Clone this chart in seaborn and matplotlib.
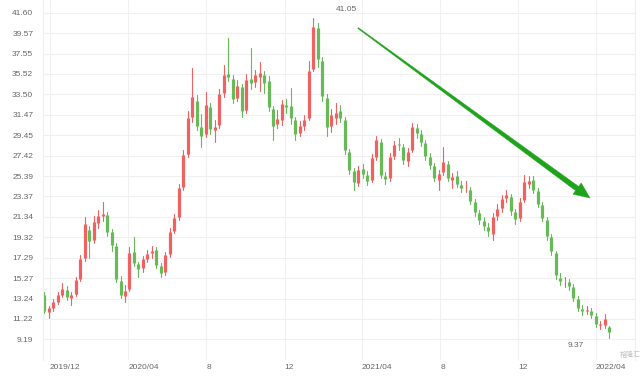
import numpy as np
import pandas as pd
import seaborn as sns
import matplotlib.pyplot as plt
from matplotlib.patches import Polygon

# weekly candles, first one in the week of 2019-11-22
first_week = "2019-11-22"
opens = [13.6, 11.9, 12.3, 12.9, 13.6, 14.1, 13.3, 13.7, 15.2, 17.3,
         20.0, 19.0, 20.7, 21.4, 21.5, 19.8, 18.5, 15.0, 13.5, 14.2,
         17.9, 16.7, 16.3, 17.2, 17.8, 18.1, 16.5, 15.9, 17.7, 19.9,
         21.3, 24.3, 27.6, 31.3, 32.8, 30.3, 29.6, 32.2, 30.0, 30.5,
         33.6, 35.5, 35.0, 33.1, 34.2, 31.9, 35.0, 34.7, 35.2, 35.4,
         34.8, 32.0, 30.6, 31.0, 32.4, 32.3, 31.0, 29.7, 30.4, 31.2,
         36.0, 40.1, 36.8, 33.1, 30.4, 31.2, 31.8, 31.0, 27.8, 25.9,
         24.7, 26.1, 25.5, 25.0, 27.3, 28.8, 25.4, 25.2, 27.4, 28.6,
         28.3, 26.9, 28.0, 30.2, 29.6, 28.7, 27.3, 26.4, 25.0, 25.8,
         26.6, 25.0, 25.4, 24.5, 24.3, 24.0, 22.8, 21.7, 20.9, 20.3,
         19.6, 21.4, 22.2, 23.2, 23.3, 21.8, 21.2, 23.0, 24.6, 25.0,
         23.9, 22.5, 21.0, 19.3, 17.8, 15.3, 14.9, 14.9, 14.4, 13.2,
         12.2, 12.0, 12.0, 11.5, 10.6, 10.6, 10.4]
closes = [12.0, 12.3, 12.9, 13.6, 14.2, 13.4, 13.6, 15.1, 17.2, 20.6,
          18.9, 20.8, 21.4, 21.6, 19.8, 18.6, 15.2, 13.6, 14.0, 17.8,
          16.8, 16.2, 17.2, 17.7, 18.0, 16.6, 15.8, 17.6, 19.8, 21.2,
          24.2, 27.5, 31.2, 33.2, 30.4, 29.4, 32.4, 30.1, 30.3, 33.5,
          35.4, 35.2, 33.0, 34.3, 31.8, 34.9, 34.6, 35.4, 35.6, 34.6,
          32.2, 30.4, 31.1, 32.5, 32.2, 31.2, 29.6, 30.4, 31.0, 35.8,
          40.2, 37.0, 33.3, 30.3, 31.4, 31.6, 31.2, 28.0, 26.0, 24.8,
          26.0, 25.6, 24.9, 27.2, 29.0, 25.5, 25.1, 27.3, 28.5, 28.5,
          27.0, 27.8, 30.3, 29.7, 28.8, 27.4, 26.5, 25.2, 25.6, 26.8,
          25.2, 25.3, 24.6, 24.2, 24.3, 22.9, 21.8, 21.0, 20.4, 19.9,
          21.3, 22.1, 23.1, 23.5, 21.9, 21.1, 22.8, 24.8, 24.9, 24.0,
          22.6, 21.2, 19.4, 18.0, 15.6, 15.0, 14.9, 14.5, 13.3, 12.3,
          12.0, 12.1, 11.6, 10.7, 10.7, 11.2, 9.9]
highs = [13.9, 12.5, 13.2, 13.9, 14.8, 14.5, 13.9, 15.4, 17.6, 21.3,
         20.4, 21.4, 22.0, 22.8, 21.8, 20.1, 18.7, 15.5, 14.6, 18.4,
         19.3, 16.9, 17.5, 18.1, 18.5, 18.4, 16.8, 17.9, 20.2, 21.6,
         24.6, 28.0, 31.8, 36.1, 33.4, 31.5, 33.7, 32.6, 31.0, 34.0,
         36.4, 39.1, 35.4, 34.9, 34.5, 35.5, 38.1, 35.9, 36.7, 35.8,
         35.3, 32.3, 31.9, 32.9, 33.0, 34.1, 31.3, 30.9, 31.4, 36.8,
         41.05, 40.6, 37.2, 33.5, 32.0, 32.6, 32.4, 31.3, 28.1, 26.2,
         26.4, 26.6, 25.9, 27.6, 29.4, 29.1, 25.8, 27.7, 28.9, 29.2,
         28.6, 28.2, 30.7, 30.6, 30.0, 29.0, 27.7, 26.7, 26.0, 28.3,
         26.9, 25.7, 25.9, 24.9, 24.9, 24.3, 23.1, 22.0, 21.3, 20.7,
         21.7, 22.6, 23.5, 24.0, 23.6, 22.1, 23.2, 25.5, 25.4, 25.4,
         24.2, 22.8, 21.3, 19.6, 18.0, 15.8, 15.4, 15.2, 14.7, 13.5,
         12.6, 12.5, 12.3, 11.8, 11.0, 11.7, 10.5]
lows = [11.8, 11.3, 12.0, 12.7, 13.4, 13.1, 12.6, 13.5, 15.0, 17.0,
        17.3, 18.7, 20.2, 20.9, 19.4, 18.0, 14.9, 13.3, 12.9, 14.0,
        16.5, 15.4, 15.9, 16.9, 17.3, 16.3, 15.4, 15.6, 17.4, 19.7,
        21.0, 24.0, 27.3, 30.8, 30.0, 28.3, 29.3, 29.6, 28.8, 30.2,
        33.2, 34.8, 32.6, 32.8, 31.3, 31.6, 34.0, 34.2, 33.8, 33.6,
        31.8, 29.0, 30.2, 30.5, 31.6, 30.6, 29.0, 29.4, 30.0, 31.0,
        35.8, 36.2, 32.8, 29.4, 29.8, 30.6, 30.8, 27.6, 25.6, 24.0,
        24.4, 25.2, 24.5, 24.8, 27.0, 25.2, 24.6, 24.9, 27.1, 28.0,
        26.6, 26.4, 27.8, 29.2, 28.4, 27.0, 26.1, 24.9, 24.0, 25.5,
        24.9, 24.2, 24.3, 23.8, 23.8, 22.6, 21.4, 20.6, 20.0, 19.4,
        19.0, 21.0, 21.8, 22.8, 21.5, 20.6, 20.9, 22.8, 24.2, 23.7,
        22.3, 20.9, 19.0, 17.6, 15.2, 14.6, 14.4, 14.1, 13.0, 12.0,
        11.6, 11.7, 11.3, 10.4, 10.2, 10.3, 9.37]

y_ticks = [9.19, 11.22, 13.24, 15.27, 17.29, 19.32, 21.34, 23.37, 25.39,
           27.42, 29.45, 31.47, 33.50, 35.52, 37.55, 39.57, 41.60]
x_tick_dates = ["2019-12-01", "2020-04-01", "2020-08-01", "2020-12-01",
                "2021-04-01", "2021-08-01", "2021-12-01", "2022-04-01"]
x_tick_labels = ["2019/12", "2020/04", "8", "12", "2021/04", "8", "12", "2022/04"]

up_color = "#ee6262"
down_color = "#66bb58"

dates = pd.date_range(first_week, periods=len(closes), freq="7D")
o = np.array(opens)
c = np.array(closes)
trend = np.where(c >= o, "up", "down")
n = len(closes)

wicks = pd.DataFrame({
    "date": np.repeat(dates, 2),
    "price": np.column_stack([lows, highs]).ravel(),
    "id": np.repeat(np.arange(n), 2),
    "trend": np.repeat(trend, 2),
})
bodies = pd.DataFrame({
    "date": np.repeat(dates, 2),
    "price": np.column_stack([o, c]).ravel(),
    "id": np.repeat(np.arange(n), 2),
    "trend": np.repeat(trend, 2),
})

sns.set_theme(style="white")
plt.rcParams["font.family"] = ["Liberation Sans", "DejaVu Sans"]

fig = plt.figure(figsize=(6.4, 3.77), dpi=100)
ax = fig.add_axes([43 / 640, 17 / 377, 592 / 640, 360 / 377])

pal = {"up": up_color, "down": down_color}
sns.lineplot(data=wicks, x="date", y="price", units="id", estimator=None,
             hue="trend", palette=pal, linewidth=0.8, legend=False,
             sort=False, ax=ax)
sns.lineplot(data=bodies, x="date", y="price", units="id", estimator=None,
             hue="trend", palette=pal, linewidth=2.3, legend=False,
             sort=False, solid_capstyle="butt", ax=ax)

ax.set_xlim(pd.Timestamp("2019-11-20"), pd.Timestamp("2022-06-01"))
ax.set_ylim(7.14, 42.86)
ax.set_xlabel("")
ax.set_ylabel("")

ax.set_yticks(y_ticks, labels=[f"{v:.2f}" for v in y_ticks])
ax.set_xticks(pd.to_datetime(x_tick_dates), labels=x_tick_labels)
ax.tick_params(axis="both", length=0, labelsize=6, labelcolor="#666666")
ax.tick_params(axis="y", pad=7)
ax.tick_params(axis="x", pad=3)
for lbl in ax.get_xticklabels():
    lbl.set_ha("left")

ax.grid(True, color="#f0f0f0", linewidth=0.8)
ax.set_axisbelow(True)
for side in ["top", "bottom"]:
    ax.spines[side].set_visible(False)
for side in ["left", "right"]:
    ax.spines[side].set_color("#eeeeee")
    ax.spines[side].set_linewidth(0.8)

# max / min labels
imax = int(np.argmax(highs))
imin = int(np.argmin(lows))
ax.annotate(f"{highs[imax]:.2f}", xy=(dates[imax], highs[imax]),
            xytext=(24, 6.5), textcoords="offset points",
            ha="center", va="center", fontsize=6, color="#666666")
ax.annotate(f"{lows[imin]:.2f}", xy=(dates[imin], lows[imin]),
            xytext=(-24.5, -5.5), textcoords="offset points",
            ha="center", va="center", fontsize=6, color="#666666")

# tapered trend arrow drawn in figure pixels
W, H = 640, 377
start = np.array([358.0, 28.0])
tip = np.array([590.0, 198.0])
u = (tip - start) / np.linalg.norm(tip - start)
nrm = np.array([-u[1], u[0]])
base = tip - 16 * u
pts = [start + 0.5 * nrm, base + 2.6 * nrm, base + 7 * nrm, tip,
       base - 7 * nrm, base - 2.6 * nrm, start - 0.5 * nrm]
pts = [(p[0] / W, 1 - p[1] / H) for p in pts]
fig.patches.append(Polygon(pts, closed=True, transform=fig.transFigure,
                           facecolor="#1fa31c", edgecolor="#1fa31c",
                           linewidth=0.3, zorder=5))

# watermark, kept clear of the last tick label
fig.text(630 / 640, 1 - 355 / 377, "格隆汇", ha="center", va="center",
         fontsize=5, color="#999999", alpha=0.6,
         family=["Noto Sans CJK SC", "DejaVu Sans"])

fig.savefig("out.png", dpi=100)
